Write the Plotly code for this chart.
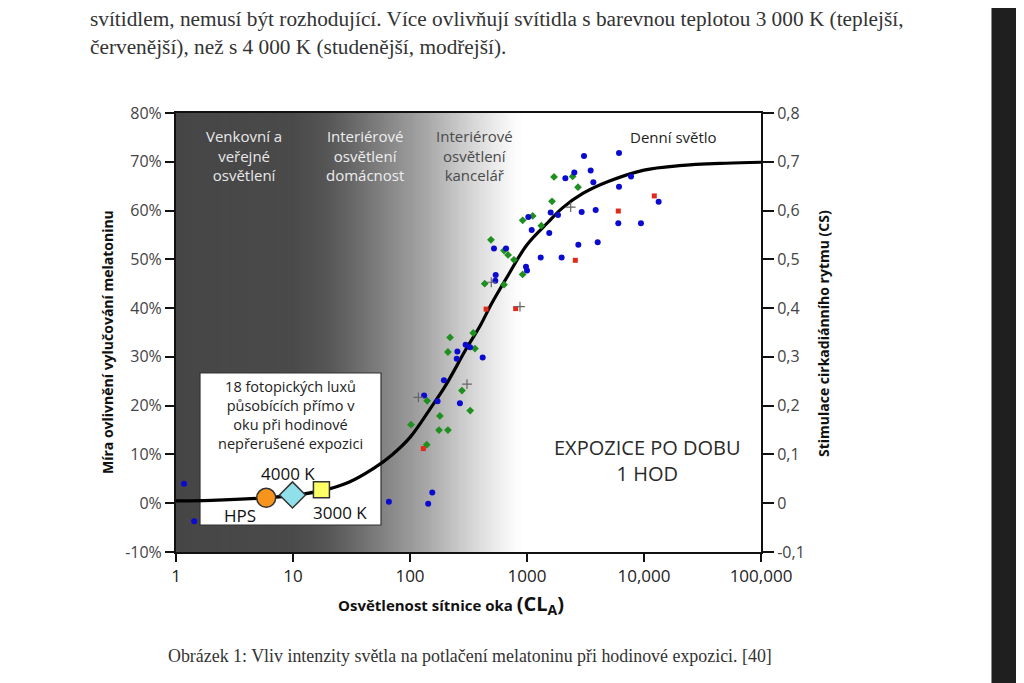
import plotly.graph_objects as go

# ---------------- data ----------------
curve_cl = [1, 2, 5, 10, 20, 30, 50, 70, 100, 150, 200, 300, 400, 500, 700,
            1000, 1500, 2000, 3000, 5000, 10000, 20000, 50000, 100000]
curve_pct = [0.5, 0.6, 1.0, 1.6, 2.9, 4.3, 7.3, 9.9, 13.5, 19.5, 24.0, 31.5, 36.5, 41.0, 47.0,
             53.0, 57.5, 60.5, 63.5, 66.0, 68.3, 69.2, 69.7, 69.9]

blue_cl = [1.17, 1.43, 66, 143, 155, 299, 326, 254, 251, 418, 195, 132, 172, 267,
           2127, 2537, 1593, 1840, 1026, 1097, 1550, 522, 662, 1309, 1977, 980, 1000, 540, 536,
           3070, 6116, 3500, 3690, 6116, 7745, 13340, 2932, 3862, 6030, 9420, 2746, 4020]
blue_pct = [4.0, -3.7, 0.3, -0.1, 2.2, 32.5, 32.0, 31.1, 29.6, 29.9, 25.2, 22.1, 20.9, 20.5,
            66.6, 67.8, 59.6, 59.1, 58.7, 56.0, 55.4, 52.2, 52.2, 50.4, 50.4, 48.5, 47.7, 46.8, 45.6,
            71.2, 71.8, 68.2, 65.8, 64.9, 67.0, 61.8, 59.7, 60.1, 57.4, 57.4, 53.0, 53.5]

green_cl = [220, 347, 359, 211, 278, 140, 327, 180, 102, 177, 211, 139,
            1702, 2455, 1636, 918, 1119, 1325, 492, 636, 689, 774, 918, 435, 636, 2729]
green_pct = [34.0, 34.9, 31.7, 31.0, 23.1, 21.0, 19.0, 17.9, 16.1, 15.0, 15.0, 12.0,
             66.9, 67.0, 61.9, 58.0, 58.9, 56.9, 54.0, 51.8, 50.9, 49.9, 46.9, 45.0, 44.8, 64.8]

red_cl = [130, 447, 800, 2588, 6030, 12250]
red_pct = [11.2, 39.8, 39.9, 49.8, 59.9, 63.0]

gray_cl = [307, 118, 2363, 495, 871]
gray_pct = [24.4, 21.7, 60.7, 45.3, 40.3]

lamp_names = ["HPS", "4000 K", "3000 K"]
lamp_cl = [5.9, 9.9, 17.5]
lamp_pct = [1.1, 1.7, 2.75]

x_tickvals = [1, 10, 100, 1000, 10000, 100000]
x_ticktext = ["1", "10", "100", "1000", "10,000", "100,000"]
y_tickvals = [-10, 0, 10, 20, 30, 40, 50, 60, 70, 80]
y_ticktext = ["-10%", "0%", "10%", "20%", "30%", "40%", "50%", "60%", "70%", "80%"]
y2_tickvals = [-0.1, 0, 0.1, 0.2, 0.3, 0.4, 0.5, 0.6, 0.7, 0.8]
y2_ticktext = ["-0,1", "0", "0,1", "0,2", "0,3", "0,4", "0,5", "0,6", "0,7", "0,8"]

# background gradient stops (log10 of CL, gray level)
grad_pos = [0.0, 1.0, 1.3, 1.57, 1.85, 2.15, 2.43, 2.68, 2.88, 2.98]
grad_gray = [70, 74, 86, 110, 138, 168, 202, 230, 250, 255]

# ---------------- layout helpers ----------------
OFF = 8  # page body margin of the html page
W, H = 1024 - OFF, 683 - OFF
PL, PR, PT, PB = 176, 761, 113, 552


def px(x):
    return (x - PL) / (PR - PL)


def py(y):
    return (PB - y) / (PB - PT)


FONT = "Open Sans"
fig = go.Figure()

# curve
fig.add_trace(go.Scatter(x=curve_cl, y=curve_pct, mode="lines", line=dict(color="black", width=3.2, shape="spline"),
                         hoverinfo="skip", showlegend=False))
# scatter data
fig.add_trace(go.Scatter(x=green_cl, y=green_pct, mode="markers",
                         marker=dict(symbol="diamond", size=6, color="#1f8f1f"), showlegend=False))
fig.add_trace(go.Scatter(x=blue_cl, y=blue_pct, mode="markers",
                         marker=dict(symbol="circle", size=6, color="#0a0ad0"), showlegend=False))
fig.add_trace(go.Scatter(x=red_cl, y=red_pct, mode="markers",
                         marker=dict(symbol="square", size=5, color="#e02a1a"), showlegend=False))
fig.add_trace(go.Scatter(x=gray_cl, y=gray_pct, mode="markers",
                         marker=dict(symbol="cross-thin", size=7, line=dict(color="#666", width=1.2)), showlegend=False))
# lamp markers
fig.add_trace(go.Scatter(x=[lamp_cl[0]], y=[lamp_pct[0]], mode="markers",
                         marker=dict(symbol="circle", size=19, color="#f7941d", line=dict(color="#333", width=1.5)),
                         showlegend=False))
fig.add_trace(go.Scatter(x=[lamp_cl[1]], y=[lamp_pct[1]], mode="markers",
                         marker=dict(symbol="diamond", size=20, color="#8fe0ea", line=dict(color="#333", width=1.5)),
                         showlegend=False))
fig.add_trace(go.Scatter(x=[lamp_cl[2]], y=[lamp_pct[2]], mode="markers",
                         marker=dict(symbol="square", size=16, color="#ffff66", line=dict(color="#333", width=1.5)),
                         showlegend=False))
# dummy for right axis
fig.add_trace(go.Scatter(x=[1], y=[0], yaxis="y2", mode="markers", marker=dict(opacity=0),
                         hoverinfo="skip", showlegend=False))

shapes = []
# gradient
N = 140
xmax = grad_pos[-1] + 0.05
for i in range(N):
    a = xmax * i / N
    b = xmax * (i + 1) / N
    m = (a + b) / 2
    g = grad_gray[-1]
    for j in range(len(grad_pos) - 1):
        if grad_pos[j] <= m <= grad_pos[j + 1]:
            t = (m - grad_pos[j]) / (grad_pos[j + 1] - grad_pos[j])
            g = grad_gray[j] + t * (grad_gray[j + 1] - grad_gray[j])
            break
    g = int(round(g))
    shapes.append(dict(type="rect", xref="x domain", yref="y domain", x0=a / 5, x1=min(b / 5 + 0.002, 1),
                       y0=0, y1=1, fillcolor=f"rgb({g},{g},{g})", line=dict(width=0), layer="below"))
# annotation box
shapes.append(dict(type="rect", xref="paper", yref="paper", x0=px(200), x1=px(381), y0=py(525), y1=py(373),
                   fillcolor="white", line=dict(color="#333", width=1.2), layer="below"))
# right dark bar of the page
shapes.append(dict(type="rect", xref="paper", yref="paper", x0=px(992), x1=px(1030), y0=py(700), y1=py(-20),
                   fillcolor="#1f1f1f", line=dict(width=0), layer="above"))
shapes.append(dict(type="line", xref="paper", yref="paper", x0=px(991.5), x1=px(991.5), y0=py(700), y1=py(-20),
                   line=dict(color="#8a8a8a", width=1), layer="above"))

ann = []


def A(text, x, y, size, color="#333", xanchor="center", yanchor="middle", family=FONT, **kw):
    ann.append(dict(text=text, x=px(x), y=py(y), xref="paper", yref="paper", showarrow=False,
                    font=dict(size=size, color=color, family=family), xanchor=xanchor, yanchor=yanchor, **kw))


# page text
SERIF = "Liberation Serif"
A("svítidlem, nemusí být rozhodující. Více ovlivňují svítidla s barevnou teplotou 3 000 K (teplejší,",
  88, 19, 21.3, "#333", xanchor="left", family=SERIF)
A("červenější), než s 4 000 K (studenější, modřejší).", 88, 47, 21.3, "#333", xanchor="left", family=SERIF)
A("Obrázek 1: Vliv intenzity světla na potlačení melatoninu při hodinové expozici. [40]",
  470, 656, 17.9, "#333", family=SERIF)

# region labels
A("Venkovní a<br>veřejné<br>osvětlení", 244, 155, 15, "#e8e8e8")
A("Interiérové<br>osvětlení<br>domácnost", 365, 155, 15, "#eeeeee")
A("Interiérové<br>osvětlení<br>kancelář", 474, 155, 15, "#4a4a4a")
A("Denní světlo", 673, 137, 15, "#222")
A("EXPOZICE PO DOBU<br>1 HOD", 647, 460, 20, "#2a2a2a")
A("18 fotopických luxů<br>působících přímo v<br>oku při hodinové<br>nepřerušené expozici", 290, 415, 14.5, "#222")
A("4000 K", 288, 473, 17, "#111")
A("HPS", 240, 515, 17, "#111")
A("3000 K", 340, 512, 17, "#111")

# axis titles
A("<b>Míra ovlivnění vylučování melatoninu</b>", 107, 342, 14, "#111", textangle=-90)
A("<b>Stimulace cirkadiánního rytmu (CS)</b>", 823, 334, 14, "#111", textangle=-90)
A("<b>Osvětlenost sítnice oka </b><span style='font-size:20px'><b>(CL<sub>A</sub>)</b></span>",
  451, 604, 15, "#111")

fig.update_layout(
    width=W, height=H,
    margin=dict(l=PL - OFF, r=1024 - PR, t=PT - OFF, b=683 - PB, pad=0),
    paper_bgcolor="white", plot_bgcolor="white",
    shapes=shapes, annotations=ann, showlegend=False,
    xaxis=dict(type="log", range=[0, 5], tickvals=x_tickvals, ticktext=x_ticktext,
               ticks="outside", ticklen=8, tickwidth=1.5, tickcolor="#111",
               showline=True, linewidth=2, linecolor="#111", mirror=True,
               showgrid=False, zeroline=False,
               tickfont=dict(family=FONT, size=17, color="#222")),
    yaxis=dict(range=[-10, 80], tickvals=y_tickvals, ticktext=y_ticktext,
               ticks="outside", ticklen=9, tickwidth=1.5, tickcolor="#111",
               showline=True, linewidth=2, linecolor="#111",
               showgrid=False, zeroline=False,
               tickfont=dict(family=FONT, size=16, color="#444")),
    yaxis2=dict(range=[-0.1, 0.8], overlaying="y", side="right",
                tickvals=y2_tickvals, ticktext=y2_ticktext,
                ticks="outside", ticklen=11, tickwidth=1.5, tickcolor="#111",
                showline=True, linewidth=2, linecolor="#111",
                showgrid=False, zeroline=False,
                tickfont=dict(family=FONT, size=16, color="#444")),
)

fig.write_html("out.html")
